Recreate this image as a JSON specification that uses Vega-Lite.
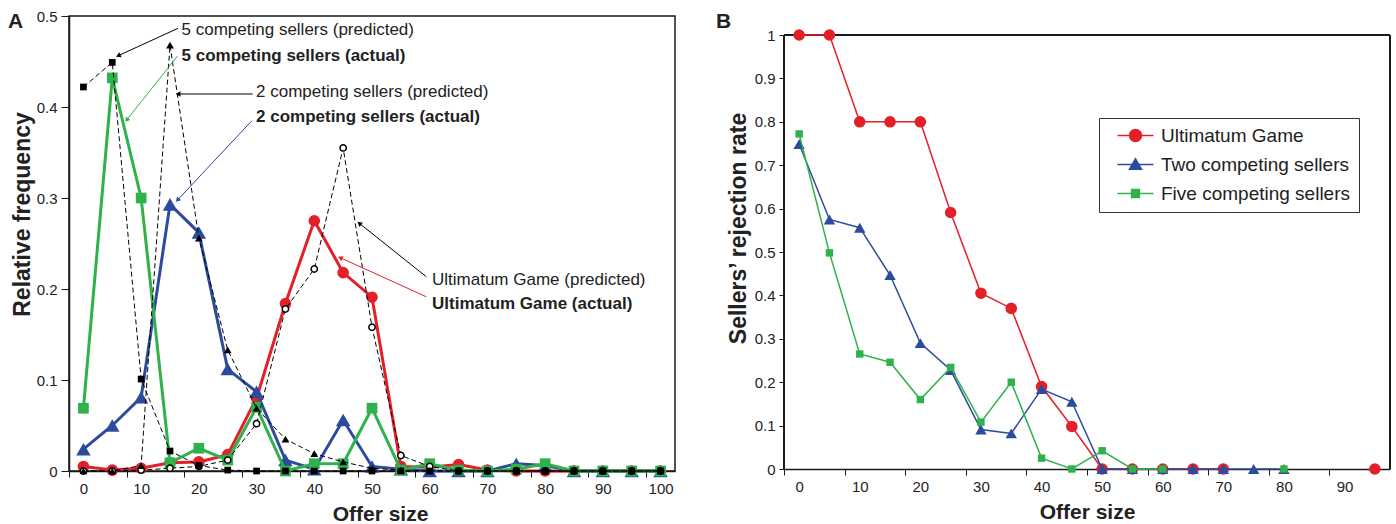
{
  "$schema": "https://vega.github.io/schema/vega-lite/v6.json",
  "background": "white",
  "padding": {"left": 7, "top": 8, "right": 5, "bottom": 0},
  "config": {
    "font": "Liberation Sans",
    "view": {"stroke": null},
    "axis": {
      "labelFont": "Liberation Sans", "titleFont": "Liberation Sans",
      "labelFontSize": 15, "titleFontSize": 21, "titleFontWeight": "bold",
      "labelColor": "#222", "titleColor": "#222",
      "domainColor": "#1a1a1a", "tickColor": "#1a1a1a", "domainWidth": 1.5,
      "tickWidth": 1, "tickSize": 6, "grid": false, "labelPadding": 4
    }
  },
  "datasets": {
    "A": [
      {"offer":0,"series":"Ultimatum Game","actual":0.005,"predicted":0},
      {"offer":5,"series":"Ultimatum Game","actual":0.001,"predicted":0},
      {"offer":10,"series":"Ultimatum Game","actual":0.003,"predicted":0.001},
      {"offer":15,"series":"Ultimatum Game","actual":0.009,"predicted":0.003},
      {"offer":20,"series":"Ultimatum Game","actual":0.01,"predicted":0.005},
      {"offer":25,"series":"Ultimatum Game","actual":0.018,"predicted":0.012},
      {"offer":30,"series":"Ultimatum Game","actual":0.08,"predicted":0.052},
      {"offer":35,"series":"Ultimatum Game","actual":0.184,"predicted":0.178},
      {"offer":40,"series":"Ultimatum Game","actual":0.275,"predicted":0.222},
      {"offer":45,"series":"Ultimatum Game","actual":0.218,"predicted":0.355},
      {"offer":50,"series":"Ultimatum Game","actual":0.191,"predicted":0.158},
      {"offer":55,"series":"Ultimatum Game","actual":0.005,"predicted":0.017},
      {"offer":60,"series":"Ultimatum Game","actual":0.004,"predicted":0.005},
      {"offer":65,"series":"Ultimatum Game","actual":0.007,"predicted":0},
      {"offer":70,"series":"Ultimatum Game","actual":0.001,"predicted":0},
      {"offer":75,"series":"Ultimatum Game","actual":0,"predicted":0},
      {"offer":80,"series":"Ultimatum Game","actual":0,"predicted":0},
      {"offer":85,"series":"Ultimatum Game","actual":0,"predicted":0},
      {"offer":90,"series":"Ultimatum Game","actual":0,"predicted":0},
      {"offer":95,"series":"Ultimatum Game","actual":0,"predicted":0},
      {"offer":100,"series":"Ultimatum Game","actual":0,"predicted":0},
      {"offer":0,"series":"Two competing sellers","actual":0.024,"predicted":0},
      {"offer":5,"series":"Two competing sellers","actual":0.05,"predicted":0},
      {"offer":10,"series":"Two competing sellers","actual":0.081,"predicted":0.006},
      {"offer":15,"series":"Two competing sellers","actual":0.293,"predicted":0.468},
      {"offer":20,"series":"Two competing sellers","actual":0.262,"predicted":0.256},
      {"offer":25,"series":"Two competing sellers","actual":0.112,"predicted":0.133},
      {"offer":30,"series":"Two competing sellers","actual":0.087,"predicted":0.069},
      {"offer":35,"series":"Two competing sellers","actual":0.012,"predicted":0.035},
      {"offer":40,"series":"Two competing sellers","actual":0.002,"predicted":0.019},
      {"offer":45,"series":"Two competing sellers","actual":0.056,"predicted":0.01},
      {"offer":50,"series":"Two competing sellers","actual":0.005,"predicted":0.003},
      {"offer":55,"series":"Two competing sellers","actual":0.002,"predicted":0.001},
      {"offer":60,"series":"Two competing sellers","actual":0,"predicted":0},
      {"offer":65,"series":"Two competing sellers","actual":0,"predicted":0},
      {"offer":70,"series":"Two competing sellers","actual":0,"predicted":0},
      {"offer":75,"series":"Two competing sellers","actual":0.008,"predicted":0},
      {"offer":80,"series":"Two competing sellers","actual":0.006,"predicted":0},
      {"offer":85,"series":"Two competing sellers","actual":0,"predicted":0},
      {"offer":90,"series":"Two competing sellers","actual":0,"predicted":0},
      {"offer":95,"series":"Two competing sellers","actual":0,"predicted":0},
      {"offer":100,"series":"Two competing sellers","actual":0,"predicted":0},
      {"offer":0,"series":"Five competing sellers","actual":0.069,"predicted":0.422},
      {"offer":5,"series":"Five competing sellers","actual":0.432,"predicted":0.449},
      {"offer":10,"series":"Five competing sellers","actual":0.3,"predicted":0.101},
      {"offer":15,"series":"Five competing sellers","actual":0.009,"predicted":0.022},
      {"offer":20,"series":"Five competing sellers","actual":0.025,"predicted":0.006},
      {"offer":25,"series":"Five competing sellers","actual":0.012,"predicted":0.001},
      {"offer":30,"series":"Five competing sellers","actual":0.07,"predicted":0},
      {"offer":35,"series":"Five competing sellers","actual":0,"predicted":0},
      {"offer":40,"series":"Five competing sellers","actual":0.008,"predicted":0},
      {"offer":45,"series":"Five competing sellers","actual":0.008,"predicted":0},
      {"offer":50,"series":"Five competing sellers","actual":0.069,"predicted":0},
      {"offer":55,"series":"Five competing sellers","actual":0.001,"predicted":0},
      {"offer":60,"series":"Five competing sellers","actual":0.008,"predicted":0},
      {"offer":65,"series":"Five competing sellers","actual":0.001,"predicted":0},
      {"offer":70,"series":"Five competing sellers","actual":0,"predicted":0},
      {"offer":75,"series":"Five competing sellers","actual":0.002,"predicted":0},
      {"offer":80,"series":"Five competing sellers","actual":0.008,"predicted":0},
      {"offer":85,"series":"Five competing sellers","actual":0,"predicted":0},
      {"offer":90,"series":"Five competing sellers","actual":0,"predicted":0},
      {"offer":95,"series":"Five competing sellers","actual":0,"predicted":0},
      {"offer":100,"series":"Five competing sellers","actual":0,"predicted":0}
    ],
    "notes": [
      {"label":"5 competing sellers (predicted)","series":"Five competing sellers","kind":"predicted","tx":17.0,"ty":0.485,"ax":16.4,"ay":0.4865,"hx":6.03,"hy":0.4564},
      {"label":"5 competing sellers (actual)","series":"Five competing sellers","kind":"actual","tx":17.0,"ty":0.456,"ax":16.3,"ay":0.456,"hx":7.49,"hy":0.3857},
      {"label":"2 competing sellers (predicted)","series":"Two competing sellers","kind":"predicted","tx":29.9,"ty":0.417,"ax":29.3,"ay":0.4143,"hx":16.4,"hy":0.4143},
      {"label":"2 competing sellers (actual)","series":"Two competing sellers","kind":"actual","tx":29.9,"ty":0.389,"ax":29.2,"ay":0.385,"hx":16.3,"hy":0.2978},
      {"label":"Ultimatum Game (predicted)","series":"Ultimatum Game","kind":"predicted","tx":60.4,"ty":0.21,"ax":59.4,"ay":0.2135,"hx":47.8,"hy":0.2722},
      {"label":"Ultimatum Game (actual)","series":"Ultimatum Game","kind":"actual","tx":60.4,"ty":0.184,"ax":59.4,"ay":0.1915,"hx":44.5,"hy":0.2344}
    ],
    "B": [
      {"offer":0,"series":"Ultimatum Game","rate":1},
      {"offer":5,"series":"Ultimatum Game","rate":1},
      {"offer":10,"series":"Ultimatum Game","rate":0.8},
      {"offer":15,"series":"Ultimatum Game","rate":0.8},
      {"offer":20,"series":"Ultimatum Game","rate":0.8},
      {"offer":25,"series":"Ultimatum Game","rate":0.591},
      {"offer":30,"series":"Ultimatum Game","rate":0.405},
      {"offer":35,"series":"Ultimatum Game","rate":0.37},
      {"offer":40,"series":"Ultimatum Game","rate":0.19},
      {"offer":45,"series":"Ultimatum Game","rate":0.098},
      {"offer":50,"series":"Ultimatum Game","rate":0},
      {"offer":55,"series":"Ultimatum Game","rate":0},
      {"offer":60,"series":"Ultimatum Game","rate":0},
      {"offer":65,"series":"Ultimatum Game","rate":0},
      {"offer":70,"series":"Ultimatum Game","rate":0},
      {"offer":75,"series":"Ultimatum Game","rate":null},
      {"offer":95,"series":"Ultimatum Game","rate":0},
      {"offer":0,"series":"Two competing sellers","rate":0.749},
      {"offer":5,"series":"Two competing sellers","rate":0.575},
      {"offer":10,"series":"Two competing sellers","rate":0.556},
      {"offer":15,"series":"Two competing sellers","rate":0.447},
      {"offer":20,"series":"Two competing sellers","rate":0.29},
      {"offer":25,"series":"Two competing sellers","rate":0.228},
      {"offer":30,"series":"Two competing sellers","rate":0.091},
      {"offer":35,"series":"Two competing sellers","rate":0.082},
      {"offer":40,"series":"Two competing sellers","rate":0.184},
      {"offer":45,"series":"Two competing sellers","rate":0.155},
      {"offer":50,"series":"Two competing sellers","rate":0},
      {"offer":55,"series":"Two competing sellers","rate":0},
      {"offer":60,"series":"Two competing sellers","rate":0},
      {"offer":65,"series":"Two competing sellers","rate":0},
      {"offer":70,"series":"Two competing sellers","rate":0},
      {"offer":75,"series":"Two competing sellers","rate":0},
      {"offer":80,"series":"Two competing sellers","rate":0},
      {"offer":0,"series":"Five competing sellers","rate":0.772},
      {"offer":5,"series":"Five competing sellers","rate":0.498},
      {"offer":10,"series":"Five competing sellers","rate":0.265},
      {"offer":15,"series":"Five competing sellers","rate":0.246},
      {"offer":20,"series":"Five competing sellers","rate":0.16},
      {"offer":25,"series":"Five competing sellers","rate":0.234},
      {"offer":30,"series":"Five competing sellers","rate":0.108},
      {"offer":35,"series":"Five competing sellers","rate":0.2},
      {"offer":40,"series":"Five competing sellers","rate":0.025},
      {"offer":45,"series":"Five competing sellers","rate":0},
      {"offer":50,"series":"Five competing sellers","rate":0.042},
      {"offer":55,"series":"Five competing sellers","rate":0},
      {"offer":60,"series":"Five competing sellers","rate":0},
      {"offer":65,"series":"Five competing sellers","rate":null},
      {"offer":80,"series":"Five competing sellers","rate":0}
    ]
  },
  "bounds": "flush",
  "spacing": 109,
  "resolve": {
    "scale": {"color": "independent", "fill": "independent", "stroke": "independent", "shape": "independent"},
    "legend": {"color": "independent", "fill": "independent", "stroke": "independent", "shape": "independent"}
  },
  "hconcat": [
    {
      "width": 606,
      "height": 455,
      "view": {"stroke": "#1a1a1a", "strokeWidth": 1.5},
      "data": {"name": "A"},
      "layer": [
        {
          "transform": [{"filter": "datum.series === 'Ultimatum Game'"}],
          "mark": {"type": "line", "color": "#e3202a", "strokeWidth": 3},
          "encoding": {
            "x": {"field": "offer", "type": "quantitative", "scale": {"domain": [-2.5, 102.5], "nice": false, "zero": false},
                  "axis": {"values": [0,5,10,15,20,25,30,35,40,45,50,55,60,65,70,75,80,85,90,95,100], "tickOffset": -14.43, "labelOffset": 14.43, "title": "Offer size", "titleX": 311, "titlePadding": 7, "labelFlush": false}},
            "y": {"field": "actual", "type": "quantitative", "scale": {"domain": [0, 0.5], "nice": false},
                  "axis": {"values": [0,0.1,0.2,0.3,0.4,0.5], "format": ".1~f", "title": "Relative frequency", "titleFontSize": 23, "tickSize": 8, "titlePadding": 2, "titleY": 198}}
          }
        },
        {
          "transform": [{"filter": "datum.series === 'Ultimatum Game'"}],
          "mark": {"type": "point", "shape": "circle", "filled": true, "size": 135, "color": "#e3202a", "opacity": 1},
          "encoding": {"x": {"field": "offer", "type": "quantitative"}, "y": {"field": "actual", "type": "quantitative"}}
        },
        {
          "transform": [{"filter": "datum.series === 'Two competing sellers'"}],
          "mark": {"type": "line", "color": "#2c4b9c", "strokeWidth": 3},
          "encoding": {"x": {"field": "offer", "type": "quantitative"}, "y": {"field": "actual", "type": "quantitative"}}
        },
        {
          "transform": [{"filter": "datum.series === 'Two competing sellers'"}],
          "mark": {"type": "point", "shape": "triangle-up", "filled": true, "size": 210, "color": "#2c4b9c", "opacity": 1},
          "encoding": {"x": {"field": "offer", "type": "quantitative"}, "y": {"field": "actual", "type": "quantitative"}}
        },
        {
          "transform": [{"filter": "datum.series === 'Five competing sellers'"}],
          "mark": {"type": "line", "color": "#2fb24b", "strokeWidth": 3},
          "encoding": {"x": {"field": "offer", "type": "quantitative"}, "y": {"field": "actual", "type": "quantitative"}}
        },
        {
          "transform": [{"filter": "datum.series === 'Five competing sellers'"}],
          "mark": {"type": "point", "shape": "square", "filled": true, "size": 115, "color": "#2fb24b", "opacity": 1},
          "encoding": {"x": {"field": "offer", "type": "quantitative"}, "y": {"field": "actual", "type": "quantitative"}}
        },
        {
          "mark": {"type": "line", "color": "#000", "strokeWidth": 1, "strokeDash": [5, 3]},
          "encoding": {"x": {"field": "offer", "type": "quantitative"}, "y": {"field": "predicted", "type": "quantitative"}, "detail": {"field": "series"}}
        },
        {
          "transform": [{"filter": "datum.series === 'Ultimatum Game'"}],
          "mark": {"type": "point", "shape": "circle", "filled": true, "fill": "white", "stroke": "#000", "strokeWidth": 1.5, "size": 40, "opacity": 1},
          "encoding": {"x": {"field": "offer", "type": "quantitative"}, "y": {"field": "predicted", "type": "quantitative"}}
        },
        {
          "transform": [{"filter": "datum.series === 'Two competing sellers'"}],
          "mark": {"type": "point", "shape": "triangle-up", "filled": true, "size": 60, "color": "#000", "opacity": 1},
          "encoding": {"x": {"field": "offer", "type": "quantitative"}, "y": {"field": "predicted", "type": "quantitative"}}
        },
        {
          "transform": [{"filter": "datum.series === 'Five competing sellers'"}],
          "mark": {"type": "point", "shape": "square", "filled": true, "size": 45, "color": "#000", "opacity": 1},
          "encoding": {"x": {"field": "offer", "type": "quantitative"}, "y": {"field": "predicted", "type": "quantitative"}}
        },
        {
          "data": {"name": "notes"},
          "transform": [{"filter": "datum.kind === 'predicted'"}],
          "mark": {"type": "rule", "color": "#000", "strokeWidth": 1},
          "encoding": {"x": {"field": "ax", "type": "quantitative"}, "y": {"field": "ay", "type": "quantitative"}, "x2": {"field": "hx"}, "y2": {"field": "hy"}}
        },
        {
          "data": {"name": "notes"},
          "transform": [{"filter": "datum.kind === 'actual'"}],
          "mark": {"type": "rule", "strokeWidth": 1},
          "encoding": {"x": {"field": "ax", "type": "quantitative"}, "y": {"field": "ay", "type": "quantitative"}, "x2": {"field": "hx"}, "y2": {"field": "hy"},
            "color": {"field": "series", "type": "nominal", "scale": {"domain": ["Ultimatum Game", "Two competing sellers", "Five competing sellers"], "range": ["#e3202a", "#2c4b9c", "#2fb24b"]}, "legend": null}}
        },
        {
          "data": {"name": "notes"},
          "transform": [{"filter": "datum.label === '5 competing sellers (predicted)'"}],
          "mark": {"type": "point", "shape": "triangle-up", "filled": true, "size": 30, "angle": 245, "color": "#000", "opacity": 1},
          "encoding": {"x": {"field": "hx", "type": "quantitative"}, "y": {"field": "hy", "type": "quantitative"}}
        },
        {
          "data": {"name": "notes"},
          "transform": [{"filter": "datum.label === '5 competing sellers (actual)'"}],
          "mark": {"type": "point", "shape": "triangle-up", "filled": true, "size": 30, "angle": 219, "color": "#2fb24b", "opacity": 1},
          "encoding": {"x": {"field": "hx", "type": "quantitative"}, "y": {"field": "hy", "type": "quantitative"}}
        },
        {
          "data": {"name": "notes"},
          "transform": [{"filter": "datum.label === '2 competing sellers (predicted)'"}],
          "mark": {"type": "point", "shape": "triangle-up", "filled": true, "size": 30, "angle": 270, "color": "#000", "opacity": 1},
          "encoding": {"x": {"field": "hx", "type": "quantitative"}, "y": {"field": "hy", "type": "quantitative"}}
        },
        {
          "data": {"name": "notes"},
          "transform": [{"filter": "datum.label === '2 competing sellers (actual)'"}],
          "mark": {"type": "point", "shape": "triangle-up", "filled": true, "size": 30, "angle": 223, "color": "#2c4b9c", "opacity": 1},
          "encoding": {"x": {"field": "hx", "type": "quantitative"}, "y": {"field": "hy", "type": "quantitative"}}
        },
        {
          "data": {"name": "notes"},
          "transform": [{"filter": "datum.label === 'Ultimatum Game (predicted)'"}],
          "mark": {"type": "point", "shape": "triangle-up", "filled": true, "size": 30, "angle": 309, "color": "#000", "opacity": 1},
          "encoding": {"x": {"field": "hx", "type": "quantitative"}, "y": {"field": "hy", "type": "quantitative"}}
        },
        {
          "data": {"name": "notes"},
          "transform": [{"filter": "datum.label === 'Ultimatum Game (actual)'"}],
          "mark": {"type": "point", "shape": "triangle-up", "filled": true, "size": 30, "angle": 294, "color": "#e3202a", "opacity": 1},
          "encoding": {"x": {"field": "hx", "type": "quantitative"}, "y": {"field": "hy", "type": "quantitative"}}
        },
        {
          "data": {"name": "notes"},
          "transform": [{"filter": "datum.kind === 'predicted'"}],
          "mark": {"type": "text", "align": "left", "baseline": "middle", "fontSize": 17, "font": "Liberation Sans", "color": "#222"},
          "encoding": {"x": {"field": "tx", "type": "quantitative"}, "y": {"field": "ty", "type": "quantitative"}, "text": {"field": "label"}}
        },
        {
          "data": {"name": "notes"},
          "transform": [{"filter": "datum.kind === 'actual'"}],
          "mark": {"type": "text", "align": "left", "baseline": "middle", "fontSize": 17, "fontWeight": "bold", "font": "Liberation Sans", "color": "#222"},
          "encoding": {"x": {"field": "tx", "type": "quantitative"}, "y": {"field": "ty", "type": "quantitative"}, "text": {"field": "label"}}
        },
        {
          "data": {"values": [{"panel": "A"}]},
          "mark": {"type": "text", "align": "left", "baseline": "alphabetic", "fontSize": 21, "fontWeight": "bold", "font": "Liberation Sans", "color": "#222"},
          "encoding": {"x": {"datum": -13.07, "type": "quantitative"}, "y": {"datum": 0.4868, "type": "quantitative"}, "text": {"field": "panel"}}
        }
      ]
    },
    {
      "width": 606,
      "height": 453,
      "data": {"name": "B"},
      "layer": [
        {
          "mark": {"type": "rule", "color": "#1a1a1a", "strokeWidth": 1.5},
          "encoding": {
            "x": {"datum": -2.5, "type": "quantitative", "scale": {"domain": [-2.5, 97.5], "nice": false, "zero": false},
                  "axis": {"values": [0,5,10,15,20,25,30,35,40,45,50,55,60,65,70,75,80,85,90,95], "tickOffset": -15.15, "labelOffset": 15.15, "title": "Offer size", "titlePadding": 7, "labelFlush": false}},
            "y": {"datum": 0, "type": "quantitative", "scale": {"domain": [0, 1.0438], "nice": false},
                  "axis": {"values": [0,0.1,0.2,0.3,0.4,0.5,0.6,0.7,0.8,0.9,1], "format": ".1~f", "title": "Sellers’ rejection rate", "titleFontSize": 23, "domain": false, "tickSize": 5, "titlePadding": 4, "titleY": 212}},
            "y2": {"datum": 1}
          }
        },
        {
          "mark": {"type": "rule", "color": "#1a1a1a", "strokeWidth": 1.5},
          "encoding": {"x": {"datum": 97.5, "type": "quantitative"}, "y": {"datum": 0, "type": "quantitative"}, "y2": {"datum": 1}}
        },
        {
          "mark": {"type": "rule", "color": "#1a1a1a", "strokeWidth": 1.5},
          "encoding": {"y": {"datum": 1, "type": "quantitative"}}
        },
        {
          "transform": [{"filter": "datum.series === 'Ultimatum Game'"}],
          "mark": {"type": "line", "color": "#e3202a", "strokeWidth": 1.5, "invalid": "break-paths-filter-domains"},
          "encoding": {"x": {"field": "offer", "type": "quantitative"}, "y": {"field": "rate", "type": "quantitative"}}
        },
        {
          "transform": [{"filter": "datum.series === 'Ultimatum Game' && datum.rate != null"}],
          "mark": {"type": "point", "shape": "circle", "filled": true, "size": 135, "color": "#e3202a", "opacity": 1},
          "encoding": {"x": {"field": "offer", "type": "quantitative"}, "y": {"field": "rate", "type": "quantitative"}}
        },
        {
          "transform": [{"filter": "datum.series === 'Two competing sellers'"}],
          "mark": {"type": "line", "color": "#2c4b9c", "strokeWidth": 1.5, "invalid": "break-paths-filter-domains"},
          "encoding": {"x": {"field": "offer", "type": "quantitative"}, "y": {"field": "rate", "type": "quantitative"}}
        },
        {
          "transform": [{"filter": "datum.series === 'Two competing sellers' && datum.rate != null"}],
          "mark": {"type": "point", "shape": "triangle-up", "filled": true, "size": 130, "color": "#2c4b9c", "opacity": 1},
          "encoding": {"x": {"field": "offer", "type": "quantitative"}, "y": {"field": "rate", "type": "quantitative"}}
        },
        {
          "transform": [{"filter": "datum.series === 'Five competing sellers'"}],
          "mark": {"type": "line", "color": "#2fb24b", "strokeWidth": 1.5, "invalid": "break-paths-filter-domains"},
          "encoding": {"x": {"field": "offer", "type": "quantitative"}, "y": {"field": "rate", "type": "quantitative"}}
        },
        {
          "transform": [{"filter": "datum.series === 'Five competing sellers' && datum.rate != null"}],
          "mark": {"type": "point", "shape": "square", "filled": true, "size": 55, "color": "#2fb24b", "opacity": 1},
          "encoding": {"x": {"field": "offer", "type": "quantitative"}, "y": {"field": "rate", "type": "quantitative"}}
        },
        {
          "data": {"values": [{"panel": "B"}]},
          "mark": {"type": "text", "align": "left", "baseline": "alphabetic", "fontSize": 21, "fontWeight": "bold", "font": "Liberation Sans", "color": "#222"},
          "encoding": {"x": {"datum": -13.72, "type": "quantitative"}, "y": {"datum": 1.016, "type": "quantitative"}, "text": {"field": "panel"}}
        },
        {
          "transform": [{"filter": "false"}],
          "mark": {"type": "point", "filled": true},
          "encoding": {
            "x": {"field": "offer", "type": "quantitative"},
            "y": {"field": "rate", "type": "quantitative"},
            "fill": {"field": "series", "type": "nominal", "scale": {"domain": ["Ultimatum Game", "Two competing sellers", "Five competing sellers"], "range": ["#e3202a", "#2c4b9c", "#2fb24b"]},
              "legend": {"title": null, "orient": "none", "legendX": 315, "legendY": 102, "padding": 8, "strokeColor": "#333", "fillColor": "white", "labelFontSize": 19, "labelFont": "Liberation Sans", "labelColor": "#222", "labelLimit": 400, "symbolSize": 144, "symbolStrokeWidth": 1.5, "symbolOffset": 19, "labelOffset": 16, "rowPadding": 9, "symbolOpacity": 1}},
            "stroke": {"field": "series", "type": "nominal", "scale": {"domain": ["Ultimatum Game", "Two competing sellers", "Five competing sellers"], "range": ["#e3202a", "#2c4b9c", "#2fb24b"]},
              "legend": {"title": null, "orient": "none", "legendX": 315, "legendY": 102, "padding": 8, "strokeColor": "#333", "fillColor": "white", "labelFontSize": 19, "labelFont": "Liberation Sans", "labelColor": "#222", "labelLimit": 400, "symbolSize": 144, "symbolStrokeWidth": 1.5, "symbolOffset": 19, "labelOffset": 16, "rowPadding": 9, "symbolOpacity": 1}},
            "shape": {"field": "series", "type": "nominal", "scale": {"domain": ["Ultimatum Game", "Two competing sellers", "Five competing sellers"], "range": ["M-3,0H3M1,0A1,1,0,1,1,-1,0A1,1,0,1,1,1,0Z", "M-3,0H3M0,-0.95L1,0.8L-1,0.8Z", "M-3,0H3M-0.65,-0.65H0.65V0.65H-0.65Z"]},
              "legend": {"title": null, "orient": "none", "legendX": 315, "legendY": 102, "padding": 8, "strokeColor": "#333", "fillColor": "white", "labelFontSize": 19, "labelFont": "Liberation Sans", "labelColor": "#222", "labelLimit": 400, "symbolSize": 144, "symbolStrokeWidth": 1.5, "symbolOffset": 19, "labelOffset": 16, "rowPadding": 9, "symbolOpacity": 1}}
          }
        }
      ]
    }
  ]
}
